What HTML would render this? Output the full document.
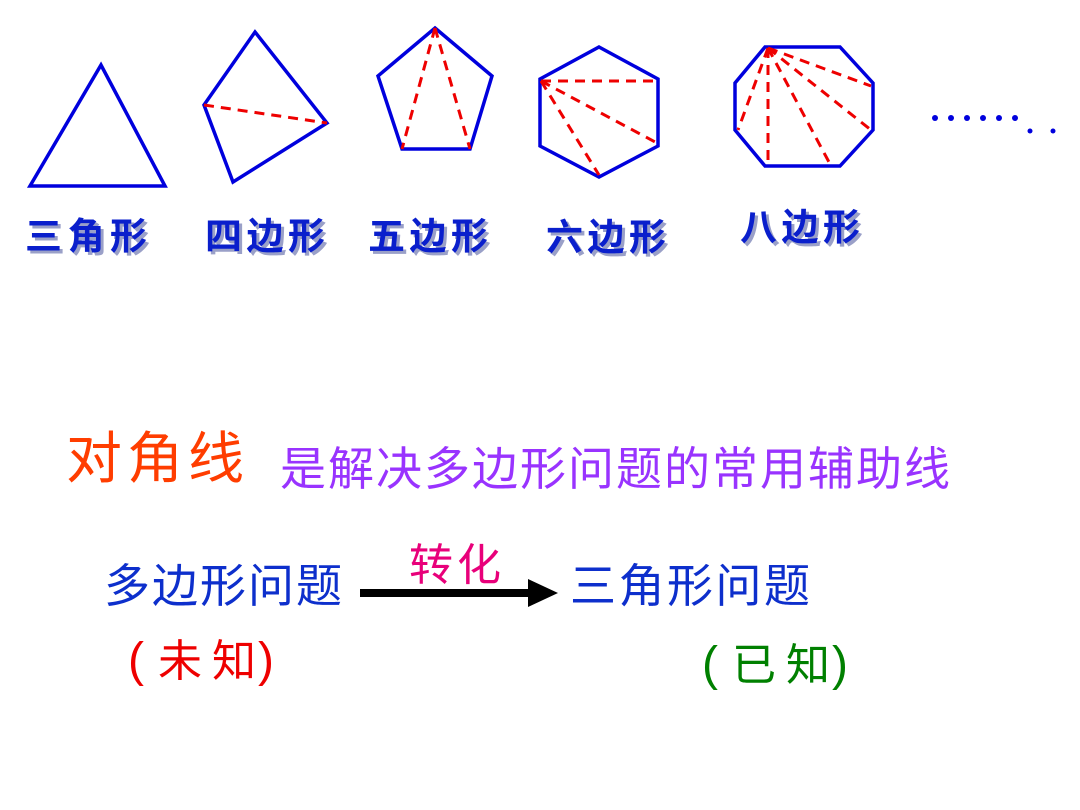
<!DOCTYPE html>
<html><head><meta charset="utf-8"><style>
html,body{margin:0;padding:0;background:#fff;width:1080px;height:810px;overflow:hidden}
svg{display:block}
text{font-family:"Liberation Sans","Noto Sans CJK SC","WenQuanYi Zen Hei",sans-serif}
</style></head><body>
<svg width="1080" height="810" viewBox="0 0 1080 810">
<g fill="none" stroke="#0000dd" stroke-width="3.5" stroke-linejoin="miter">
<polygon points="30,186 101,65 165,186"/>
<polygon points="255,32 327,123 233,182 204,105"/>
<polygon points="435,28 492,76 470,149 402,149 378,76"/>
<polygon points="599,47 658,79 658,146 599,177 540,146 540,79"/>
<polygon points="765,47 840,47 873,83 873,130 840,166 765,166 735,130 735,83"/>
</g>
<g stroke="#ee0000" stroke-width="3" stroke-dasharray="10,7" fill="none">
<line x1="204" y1="105" x2="327" y2="123"/>
<line x1="435" y1="28" x2="402" y2="149"/>
<line x1="435" y1="28" x2="470" y2="149"/>
<line x1="541" y1="81" x2="657" y2="81"/>
<line x1="541" y1="81" x2="657" y2="143"/>
<line x1="541" y1="81" x2="599" y2="175"/>
<line x1="768" y1="48" x2="738" y2="130"/>
<line x1="768" y1="48" x2="768" y2="164"/>
<line x1="768" y1="48" x2="830" y2="164"/>
<line x1="768" y1="48" x2="871" y2="130"/>
<line x1="768" y1="48" x2="871" y2="86"/>
</g>
<g fill="#0000dd">
<circle cx="935" cy="118" r="3"/><circle cx="951" cy="118" r="3"/><circle cx="967" cy="118" r="3"/>
<circle cx="983" cy="118" r="3"/><circle cx="999" cy="118" r="3"/><circle cx="1015" cy="118" r="3"/>
<circle cx="1030" cy="131" r="2.5"/><circle cx="1053" cy="131" r="2.5"/>
</g>
<g font-size="37" font-weight="bold" fill="#0a1fcc">
<g fill="#9aa0c8" transform="translate(3,3)">
<text x="25" y="249" textLength="122">三角形</text>
<text x="205" y="249" textLength="120">四边形</text>
<text x="368" y="249" textLength="120">五边形</text>
<text x="546" y="250" textLength="120">六边形</text>
<text x="740" y="240" textLength="120">八边形</text>
</g>
<text x="25" y="249" textLength="122">三角形</text>
<text x="205" y="249" textLength="120">四边形</text>
<text x="368" y="249" textLength="120">五边形</text>
<text x="546" y="250" textLength="120">六边形</text>
<text x="740" y="240" textLength="120">八边形</text>
</g>
<text x="66" y="478" font-size="56" fill="#ff3d00" textLength="178">对角线</text>
<text x="280" y="485" font-size="46" fill="#9933ff" textLength="670">是解决多边形问题的常用辅助线</text>
<text x="104" y="602" font-size="46" fill="#0d2fcc" textLength="238">多边形问题</text>
<text x="409" y="580" font-size="44" fill="#e8007a" textLength="92">转化</text>
<text x="570" y="602" font-size="46" fill="#0d2fcc" textLength="240">三角形问题</text>
<line x1="360" y1="593" x2="532" y2="593" stroke="#000" stroke-width="8"/>
<polygon points="528,579 558,593 528,607" fill="#000"/>
<g font-size="44" fill="#ee0000">
<text x="128" y="676" font-size="48">(</text>
<text x="158" y="676" textLength="98">未知</text>
<text x="258" y="676" font-size="48">)</text>
</g>
<g font-size="44" fill="#008000">
<text x="702" y="680" font-size="48">(</text>
<text x="732" y="680" textLength="98">已知</text>
<text x="832" y="680" font-size="48">)</text>
</g>
</svg>
</body></html>
